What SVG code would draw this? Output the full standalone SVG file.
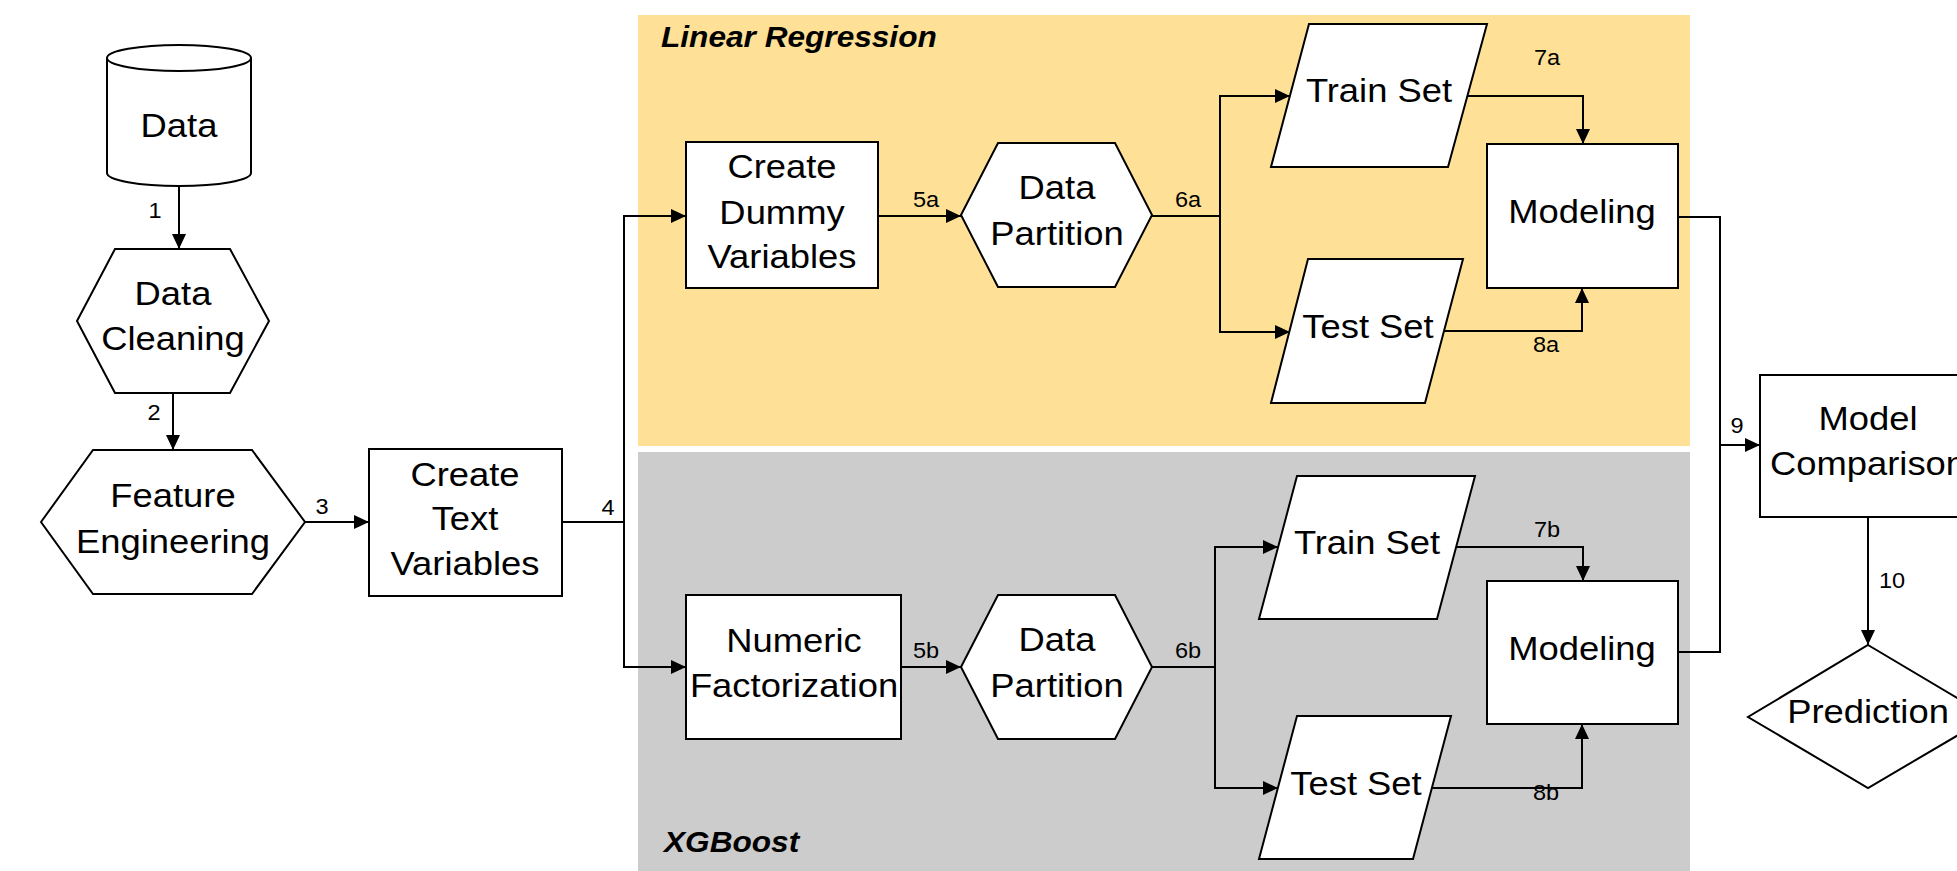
<svg xmlns="http://www.w3.org/2000/svg" width="1957" height="871" viewBox="0 0 1957 871">
<style>
.n{fill:#fff;stroke:#000;stroke-width:2}
.c{fill:none;stroke:#000;stroke-width:2}
.a{fill:none;stroke:#000;stroke-width:2;marker-end:url(#ah)}
.t{font-family:"Liberation Sans",Arial,sans-serif;font-size:34px;text-anchor:middle;fill:#000}
.l{font-family:"Liberation Sans",Arial,sans-serif;font-size:22px;text-anchor:middle;fill:#000}
.h{font-family:"Liberation Sans",Arial,sans-serif;font-size:29px;font-weight:bold;font-style:italic;fill:#000}
</style>
<defs>
<marker id="ah" markerUnits="userSpaceOnUse" markerWidth="15" markerHeight="14" refX="15" refY="7" orient="auto">
<path d="M0,0 L15,7 L0,14 Z" fill="#000"/>
</marker>
</defs>
<g id="lanes">
<rect x="638" y="15" width="1052" height="431" fill="#FEE196"/>
<rect x="638" y="452" width="1052" height="419" fill="#CCCCCC"/>
<text class="h" transform="translate(661,47) scale(1.09,1)">Linear Regression</text>
<text class="h" transform="translate(664,852) scale(1.09,1)">XGBoost</text>
</g>
<g id="connectors">
<path class="a" d="M179,187 V249"/>
<path class="a" d="M173,393 V450"/>
<path class="a" d="M305,522 H369"/>
<path class="c" d="M562,522 H624"/>
<path class="a" d="M624,522 V216 H686"/>
<path class="a" d="M624,522 V667 H686"/>
<path class="a" d="M878,216 H961"/>
<path class="c" d="M1152,216 H1220"/>
<path class="a" d="M1220,216 V96 H1290"/>
<path class="a" d="M1220,216 V332 H1290"/>
<path class="a" d="M1468,96 H1583 V144"/>
<path class="a" d="M1444,331 H1582 V288"/>
<path class="c" d="M1678,217 H1720 V652 H1678"/>
<path class="a" d="M1720,445 H1760"/>
<path class="a" d="M1868,517 V645"/>
<path class="a" d="M901,667 H961"/>
<path class="c" d="M1152,667 H1215"/>
<path class="a" d="M1215,667 V547 H1278"/>
<path class="a" d="M1215,667 V788 H1278"/>
<path class="a" d="M1456,547 H1583 V581"/>
<path class="a" d="M1432,788 H1582 V724"/>
<text class="l" transform="translate(155,218) scale(1.07,1)">1</text>
<text class="l" transform="translate(154,420) scale(1.07,1)">2</text>
<text class="l" transform="translate(322,514) scale(1.07,1)">3</text>
<text class="l" transform="translate(608,515) scale(1.07,1)">4</text>
<text class="l" transform="translate(926,207) scale(1.07,1)">5a</text>
<text class="l" transform="translate(1188,207) scale(1.07,1)">6a</text>
<text class="l" transform="translate(1547,65) scale(1.07,1)">7a</text>
<text class="l" transform="translate(1546,352) scale(1.07,1)">8a</text>
<text class="l" transform="translate(1737,433) scale(1.07,1)">9</text>
<text class="l" transform="translate(1892,588) scale(1.07,1)">10</text>
<text class="l" transform="translate(926,658) scale(1.07,1)">5b</text>
<text class="l" transform="translate(1188,658) scale(1.07,1)">6b</text>
<text class="l" transform="translate(1547,537) scale(1.07,1)">7b</text>
<text class="l" transform="translate(1546,800) scale(1.07,1)">8b</text>
</g>
<g id="data">
<path class="n" d="M107,58 V173 A72,13 0 0 0 251,173 V58 A72,13 0 0 0 107,58 Z"/>
<path class="c" d="M107,58 A72,13 0 0 0 251,58"/>
<text class="t" transform="translate(179,137) scale(1.07,1)">Data</text>
</g>
<g id="data-cleaning">
<polygon class="n" points="77,321 115,249 230,249 269,321 230,393 115,393"/>
<text class="t" transform="translate(173,305) scale(1.07,1)">Data</text>
<text class="t" transform="translate(173,350) scale(1.07,1)">Cleaning</text>
</g>
<g id="feature-engineering">
<polygon class="n" points="41,522 93,450 252,450 305,522 252,594 93,594"/>
<text class="t" transform="translate(173,507) scale(1.07,1)">Feature</text>
<text class="t" transform="translate(173,553) scale(1.07,1)">Engineering</text>
</g>
<g id="create-text-variables">
<rect class="n" x="369" y="449" width="193" height="147"/>
<text class="t" transform="translate(465,486) scale(1.07,1)">Create</text>
<text class="t" transform="translate(465,530) scale(1.07,1)">Text</text>
<text class="t" transform="translate(465,575) scale(1.07,1)">Variables</text>
</g>
<g id="create-dummy-variables">
<rect class="n" x="686" y="142" width="192" height="146"/>
<text class="t" transform="translate(782,178) scale(1.07,1)">Create</text>
<text class="t" transform="translate(782,224) scale(1.07,1)">Dummy</text>
<text class="t" transform="translate(782,268) scale(1.07,1)">Variables</text>
</g>
<g id="data-partition-a">
<polygon class="n" points="961,215 998,143 1115,143 1152,215 1115,287 998,287"/>
<text class="t" transform="translate(1057,199) scale(1.07,1)">Data</text>
<text class="t" transform="translate(1057,245) scale(1.07,1)">Partition</text>
</g>
<g id="train-set-a">
<polygon class="n" points="1309,24 1487,24 1448,167 1271,167"/>
<text class="t" transform="translate(1379,102) scale(1.07,1)">Train Set</text>
</g>
<g id="test-set-a">
<polygon class="n" points="1308,259 1463,259 1425,403 1271,403"/>
<text class="t" transform="translate(1368,338) scale(1.07,1)">Test Set</text>
</g>
<g id="modeling-a">
<rect class="n" x="1487" y="144" width="191" height="144"/>
<text class="t" transform="translate(1582,223) scale(1.07,1)">Modeling</text>
</g>
<g id="numeric-factorization">
<rect class="n" x="686" y="595" width="215" height="144"/>
<text class="t" transform="translate(794,652) scale(1.07,1)">Numeric</text>
<text class="t" transform="translate(794,697) scale(1.07,1)">Factorization</text>
</g>
<g id="data-partition-b">
<polygon class="n" points="961,667 998,595 1115,595 1152,667 1115,739 998,739"/>
<text class="t" transform="translate(1057,651) scale(1.07,1)">Data</text>
<text class="t" transform="translate(1057,697) scale(1.07,1)">Partition</text>
</g>
<g id="train-set-b">
<polygon class="n" points="1297,476 1475,476 1437,619 1259,619"/>
<text class="t" transform="translate(1367,554) scale(1.07,1)">Train Set</text>
</g>
<g id="test-set-b">
<polygon class="n" points="1297,716 1451,716 1413,859 1259,859"/>
<text class="t" transform="translate(1356,795) scale(1.07,1)">Test Set</text>
</g>
<g id="modeling-b">
<rect class="n" x="1487" y="581" width="191" height="143"/>
<text class="t" transform="translate(1582,660) scale(1.07,1)">Modeling</text>
</g>
<g id="model-comparison">
<rect class="n" x="1760" y="375" width="216" height="142"/>
<text class="t" transform="translate(1868,430) scale(1.07,1)">Model</text>
<text class="t" transform="translate(1868,475) scale(1.07,1)">Comparison</text>
</g>
<g id="prediction">
<polygon class="n" points="1868,645 1989,717 1868,788 1748,717"/>
<text class="t" transform="translate(1868,723) scale(1.07,1)">Prediction</text>
</g>
</svg>
